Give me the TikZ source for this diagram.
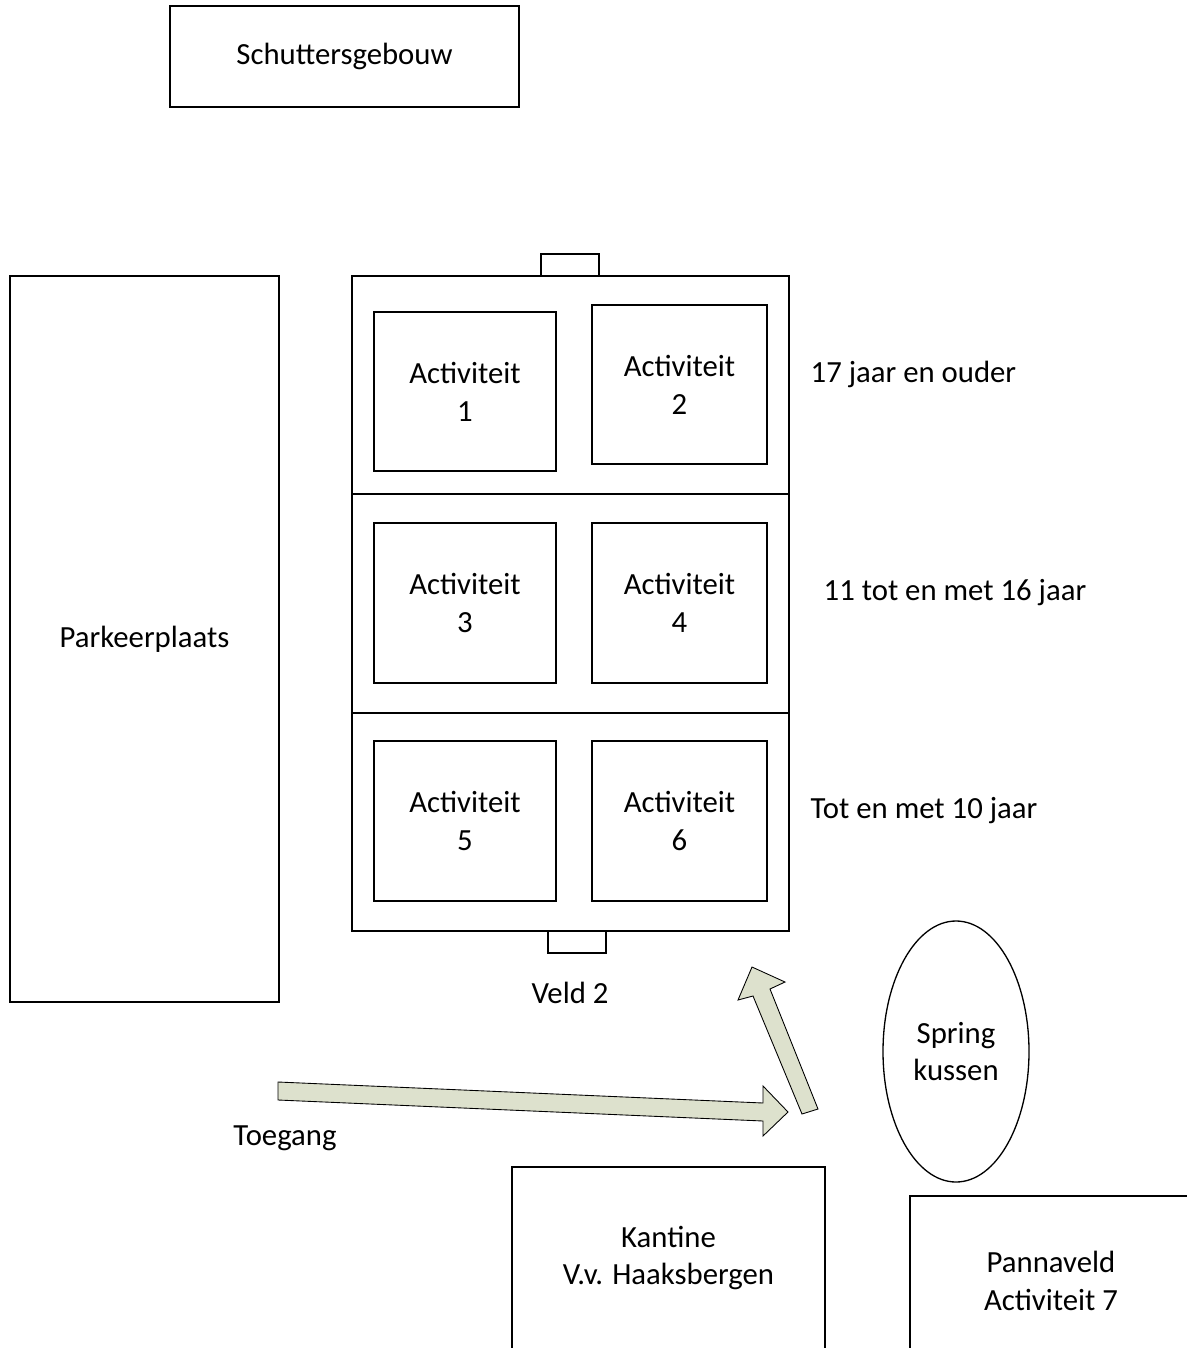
\documentclass[tikz,border=0pt]{standalone}
\usepackage{fontspec}
\setmainfont{Carlito}
\usepackage{tikz}
\usetikzlibrary{shapes.geometric}
\newcommand{\px}{0.02cm}
\definecolor{routegreen}{RGB}{221,225,205}

\begin{document}
\begin{tikzpicture}[x=0.02cm,y=-0.02cm,line width=0.75pt,
	box/.style={draw,shape=rectangle,align=center,inner sep=0pt},
	txt/.style={align=center,inner sep=0pt},
	route/.style={draw,fill=routegreen,line width=0.5pt,line join=miter},
	every node/.style={font=\fontsize{17.5}{21.6}\selectfont}]
	\useasboundingbox (0,0) rectangle (1187,1348);

	% gebouwen
	\node (schutters) [box,minimum width=349*\px,minimum height=101*\px] at (344.5,56.5) {Schuttersgebouw};
	\node (parkeer) [box,minimum width=269*\px,minimum height=726*\px] at (144.5,639) {Parkeerplaats};

	% veld 2
	\node (veld) [box,minimum width=437*\px,minimum height=655*\px] at (570.5,603.5) {};
	\draw (veld.west |- 0,494) -- (veld.east |- 0,494);
	\draw (veld.west |- 0,713) -- (veld.east |- 0,713);
	\node (goaltop) [box,minimum width=58*\px,minimum height=22*\px] at (570,265) {};
	\node (goalbottom) [box,minimum width=58*\px,minimum height=22*\px] at (577,942) {};
	\node (veldlabel) [txt] at (570,993) {Veld 2};

	\node (act1) [box,minimum width=182*\px,minimum height=159*\px] at (465,391.5) {Activiteit\\1};
	\node (act2) [box,minimum width=175*\px,minimum height=159*\px] at (679.5,384.5) {Activiteit\\2};
	\node (act3) [box,minimum width=182*\px,minimum height=160*\px] at (465,603) {Activiteit\\3};
	\node (act4) [box,minimum width=175*\px,minimum height=160*\px] at (679.5,603) {Activiteit\\4};
	\node (act5) [box,minimum width=182*\px,minimum height=160*\px] at (465,821) {Activiteit\\5};
	\node (act6) [box,minimum width=175*\px,minimum height=160*\px] at (679.5,821) {Activiteit\\6};

	% leeftijden
	\node (age1) [txt,anchor=west] at (810,374) {17 jaar en ouder};
	\node (age2) [txt,anchor=west] at (823,593) {11 tot en met 16 jaar};
	\node (age3) [txt,anchor=west] at (810,811) {Tot en met 10 jaar};

	% springkussen
	\node (spring) [draw,ellipse,inner sep=0pt,align=center,minimum width=146*\px,minimum height=261*\px] at (956,1051.5) {Spring\\kussen};

	% looproute
	\path[route] (278,1082) -- (763,1103) -- (763,1086) -- (788,1112) -- (763,1136) -- (763,1121) -- (278,1100) -- cycle;
	\path[route] (802,1114) -- (753,996) -- (738,1000) -- (752,967) -- (785,982) -- (770,989) -- (818,1109) -- cycle;
	\node (toegang) [txt] at (285,1138) {Toegang};

	% kantine en pannaveld
	\draw (512,1348) -- (512,1167) -- (825,1167) -- (825,1348);
	\node (kantine) [txt] at (668.5,1258) {Kantine\\V.v. Haaksbergen};
	\draw (910,1348) -- (910,1196) -- (1187,1196);
	\node (panna) [txt] at (1051,1281) {Pannaveld\\Activiteit 7};
\end{tikzpicture}
\end{document}
